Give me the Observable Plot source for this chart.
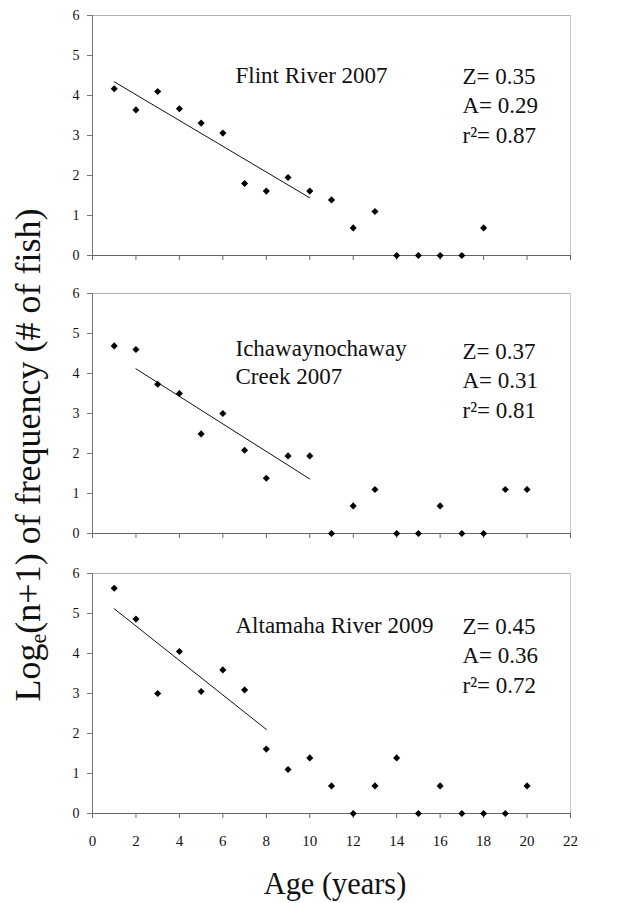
<!DOCTYPE html>
<html>
<head>
<meta charset="utf-8">
<script src="https://cdn.jsdelivr.net/npm/d3@7"></script>
<script src="https://cdn.jsdelivr.net/npm/@observablehq/plot@0.6"></script>
<style>
  body { margin: 0; background: #fff; }
  #fig { position: relative; width: 638px; height: 903px; font-family: "Liberation Serif", "Times New Roman", serif; color: #111; overflow: hidden; }
  .panel { position: absolute; left: 0; }
  .panel text { font-family: "Liberation Serif", "Times New Roman", serif; }
  #ylab { position: absolute; left: 30px; top: 455px; transform: translate(-50%, -50%) rotate(-90deg); white-space: nowrap; font-size: 36px; line-height: 1; }
  #ylab sub { font-size: 0.62em; vertical-align: -0.25em; }
  #xlab { position: absolute; left: 335px; top: 883px; transform: translate(-50%, -50%) scaleX(0.95); white-space: nowrap; font-size: 32px; line-height: 1; }
</style>
</head>
<body>
<div id="fig">
  <div id="ylab">Log<sub>e</sub>(n+1) of frequency (# of fish)</div>
  <div id="xlab">Age (years)</div>
</div>
<script>
// ---- data ----
const xTicks = [0, 2, 4, 6, 8, 10, 12, 14, 16, 18, 20, 22];
const yTicks = [0, 1, 2, 3, 4, 5, 6];

const flintAges = [1, 2, 3, 4, 5, 6, 7, 8, 9, 10, 11, 12, 13, 14, 15, 16, 17, 18];
const flintLogN = [4.17, 3.64, 4.10, 3.67, 3.31, 3.06, 1.80, 1.61, 1.95, 1.61, 1.39, 0.69, 1.10, 0, 0, 0, 0, 0.69];
const flintFit = [1, 10];
const flintTitle = ["Flint River 2007"];
const flintStats = ["Z= 0.35", "A= 0.29", "r\u00B2= 0.87"];

const ichaAges = [1, 2, 3, 4, 5, 6, 7, 8, 9, 10, 11, 12, 13, 14, 15, 16, 17, 18, 19, 20];
const ichaLogN = [4.69, 4.60, 3.73, 3.50, 2.49, 3.00, 2.08, 1.38, 1.94, 1.94, 0, 0.69, 1.10, 0, 0, 0.69, 0, 0, 1.10, 1.10];
const ichaFit = [2, 10];
const ichaTitle = ["Ichawaynochaway", "Creek 2007"];
const ichaStats = ["Z= 0.37", "A= 0.31", "r\u00B2= 0.81"];

const altaAges = [1, 2, 3, 4, 5, 6, 7, 8, 9, 10, 11, 12, 13, 14, 15, 16, 17, 18, 19, 20];
const altaLogN = [5.63, 4.86, 3.00, 4.05, 3.05, 3.59, 3.09, 1.61, 1.10, 1.39, 0.69, 0, 0.69, 1.39, 0, 0.69, 0, 0, 0, 0.69];
const altaFit = [1, 8];
const altaTitle = ["Altamaha River 2009"];
const altaStats = ["Z= 0.45", "A= 0.36", "r\u00B2= 0.72"];

// ---- layout ----
const FONT = "Liberation Serif, Times New Roman, serif";
const panels = [
  {ages: flintAges, values: flintLogN, fit: flintFit, title: flintTitle, stats: flintStats,
   top: 0, labels: false, titleDy: 67, statsDy: 68},
  {ages: ichaAges, values: ichaLogN, fit: ichaFit, title: ichaTitle, stats: ichaStats,
   top: 278, labels: false, titleDy: 62, statsDy: 65},
  {ages: altaAges, values: altaLogN, fit: altaFit, title: altaTitle, stats: altaStats,
   top: 558, labels: true, titleDy: 59, statsDy: 60}
];

const fig = document.getElementById("fig");

for (const p of panels) {
  const data = p.ages.map((a, i) => ({age: a, v: p.values[i]}));
  const fitData = data.filter(d => d.age >= p.fit[0] && d.age <= p.fit[1]);
  const marginBottom = p.labels ? 40 : 12;
  const textMarks = [
    ...p.title.map((t, i) => Plot.text([t], {
      text: d => d, frameAnchor: "top-left", dx: 143, dy: p.titleDy + i * 28,
      textAnchor: "start", lineAnchor: "bottom", fontSize: 23, fontFamily: FONT, fill: "#111"
    })),
    ...p.stats.map((t, i) => Plot.text([t], {
      text: d => d, frameAnchor: "top-left", dx: 370, dy: p.statsDy + i * 29.5,
      textAnchor: "start", lineAnchor: "bottom", fontSize: 23, fontFamily: FONT, fill: "#111"
    }))
  ];
  const chart = Plot.plot({
    width: 638,
    height: 15 + 240 + marginBottom,
    marginTop: 15,
    marginBottom,
    marginLeft: 92,
    marginRight: 68,
    style: {fontFamily: FONT, fontSize: "14px", color: "#111", background: "transparent", overflow: "visible"},
    x: {domain: [0, 22]},
    y: {domain: [0, 6]},
    marks: [
      Plot.ruleY([6], {stroke: "#b0b0b0"}),
      Plot.ruleX([22], {stroke: "#c4c4c4"}),
      Plot.axisY({ticks: yTicks, tickSize: 5, tickPadding: 8, stroke: "#777", fill: "#111", label: null,
                  fontSize: 14, fontFamily: FONT, tickFormat: d => String(d)}),
      Plot.axisX({ticks: xTicks, tickSize: 5, tickPadding: 17, stroke: "#666", fill: "#111", label: null,
                  fontSize: 15, fontFamily: FONT,
                  tickFormat: p.labels ? (d => String(d)) : (() => "")}),
      Plot.ruleX([0], {stroke: "#777"}),
      Plot.ruleY([0], {stroke: "#666"}),
      Plot.linearRegressionY(fitData, {x: "age", y: "v", ci: 0, stroke: "#111", strokeWidth: 1}),
      Plot.dot(data, {x: "age", y: "v", symbol: "diamond2", r: 3.2, fill: "#000", stroke: "none"}),
      ...textMarks
    ]
  });
  chart.classList.add("panel");
  chart.style.top = p.top + "px";
  fig.appendChild(chart);
}
</script>
</body>
</html>
